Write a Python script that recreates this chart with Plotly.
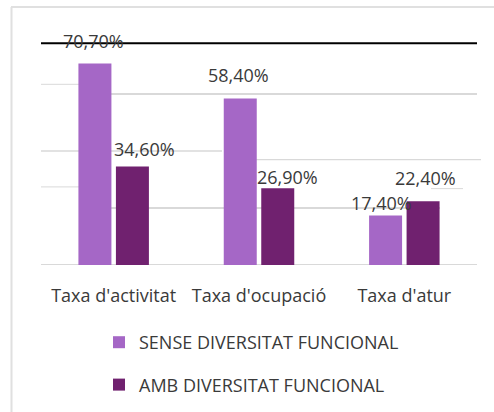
import plotly.graph_objects as go

categories = ["Taxa d'activitat", "Taxa d'ocupació", "Taxa d'atur"]
series_names = ["SENSE DIVERSITAT FUNCIONAL", "AMB DIVERSITAT FUNCIONAL"]
sense_values = [70.70, 58.40, 17.40]
amb_values = [34.60, 26.90, 22.40]

colors = ["#A567C6", "#70216F"]

# label offsets (pixels) relative to bar top-centre, as in the reference
label_dx = [[1, 0, -2], [10, 8, 0]]
label_dy = [[23, 24, 12], [17, 11, 23]]

W, H = 494, 412
L, R, T, B = 41, 17, 37, 147
pw = W - L - R
ph = H - T - B

def px_x(p):
    return (p - L) / pw

def px_y(p):
    return (H - B - p) / ph

fig = go.Figure()
for i, (name, vals) in enumerate(zip(series_names, [sense_values, amb_values])):
    fig.add_trace(go.Bar(
        x=categories, y=vals, name=name,
        marker=dict(color=colors[i], line=dict(width=0)),
        legendgroup=name,
    ))

font = "Open Sans"
txt_col = "#3a3a3a"

annotations = []
group_half = 20.7
for i, vals in enumerate([sense_values, amb_values]):
    for j, (c, v) in enumerate(zip(categories, vals)):
        annotations.append(dict(
            x=c, y=v, xref="x", yref="y",
            text=f"{v:.2f}".replace(".", ",") + "%",
            showarrow=False,
            xshift=(-group_half if i == 0 else group_half) + label_dx[i][j],
            yshift=label_dy[i][j],
            yanchor="middle", xanchor="center",
            font=dict(family=font, size=18, color=txt_col),
        ))

grid = "#D9D9D9"
shapes = []
# chart area border (top and left only)
shapes.append(dict(type="line", xref="paper", yref="paper",
                   x0=px_x(11), x1=px_x(494), y0=px_y(7), y1=px_y(7),
                   line=dict(color="#E0E0E0", width=2), layer="below"))
shapes.append(dict(type="line", xref="paper", yref="paper",
                   x0=px_x(11.5), x1=px_x(11.5), y0=px_y(7), y1=px_y(420),
                   line=dict(color="#E0E0E0", width=2), layer="below"))
# gridline fragments (value, x-start px, x-end px, width)
grid_pieces = [
    (0, 41, 477, 2),
    (20, 109, 440, 2),
    (26.8, 431, 463, 1),
    (27.4, 41, 82, 1),
    (37.0, 255, 481, 1.3),
    (40, 41, 222, 1.5),
    (60, 109, 477, 2),
    (63.4, 41, 82, 1),
]
for yv, xa, xb, w in grid_pieces:
    shapes.append(dict(type="line", xref="paper", yref="y",
                       x0=px_x(xa), x1=px_x(xb), y0=yv, y1=yv,
                       line=dict(color=grid, width=w), layer="below"))
# black line on top
shapes.append(dict(type="line", xref="paper", yref="y",
                   x0=px_x(41), x1=px_x(477), y0=77.8, y1=77.8,
                   line=dict(color="#000000", width=2), layer="above"))

fig.update_layout(
    width=W, height=H,
    margin=dict(l=L, r=R, t=T, b=B, autoexpand=False),
    paper_bgcolor="white", plot_bgcolor="white",
    barmode="group", bargap=0.484, bargroupgap=0.12,
    font=dict(family=font, size=18, color=txt_col),
    showlegend=True,
    legend=dict(orientation="v", x=px_x(99), xanchor="left",
                y=px_y(324), yanchor="top",
                font=dict(family=font, size=18, color=txt_col),
                tracegroupgap=16, traceorder="grouped",
                bgcolor="rgba(0,0,0,0)"),
    annotations=annotations,
    shapes=shapes,
    separators=",.",
)
fig.update_xaxes(showgrid=False, showline=False, zeroline=False,
                 automargin=False,
                 ticks="outside", ticklen=14, tickcolor="rgba(0,0,0,0)",
                 tickfont=dict(family=font, size=18, color=txt_col))
fig.update_yaxes(range=[0, 80], showgrid=False, showline=False, zeroline=False,
                 automargin=False, showticklabels=False)

fig.write_html("out.html", config={"displayModeBar": False},
               post_script="document.body.style.margin='0';document.body.style.overflow='hidden';")
